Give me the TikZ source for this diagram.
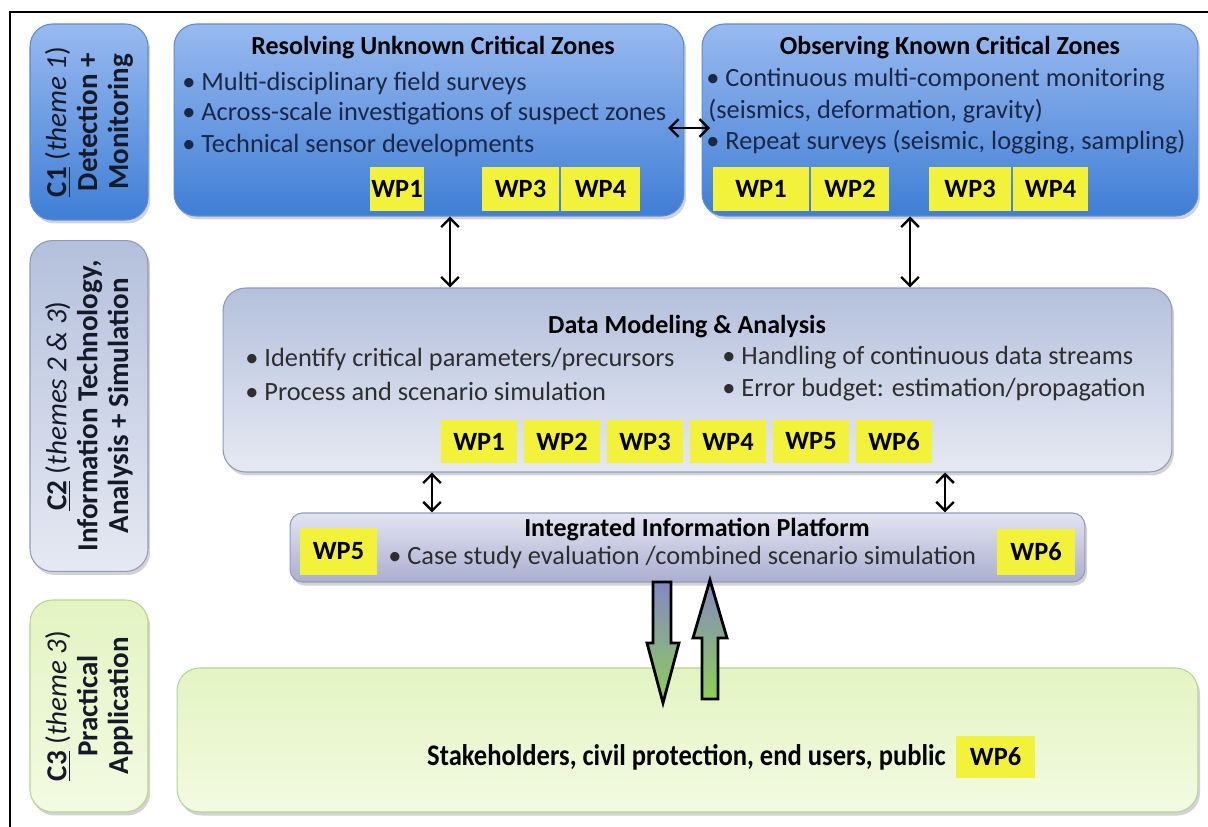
\documentclass[tikz,border=0pt]{standalone}
\usepackage{fontspec}
\setmainfont{Carlito}
\usetikzlibrary{arrows.meta,shadows}

\definecolor{bluetop}{HTML}{98BAF0}
\definecolor{bluebot}{HTML}{3F7ED5}
\definecolor{blueedge}{HTML}{5B8CD0}
\definecolor{greytop}{HTML}{B4C0DC}
\definecolor{greybot}{HTML}{E6E9F2}
\definecolor{greyedge}{HTML}{8F9BBD}
\definecolor{plattop}{HTML}{E2E4F1}
\definecolor{platbot}{HTML}{ABAED0}
\definecolor{greentop}{HTML}{E3F4C2}
\definecolor{greenbot}{HTML}{F3FAE2}
\definecolor{greenedge}{HTML}{B6D68E}
\definecolor{wpyellow}{HTML}{F2F23A}
\definecolor{navytext}{HTML}{1C2745}
\definecolor{sidecol}{HTML}{151A28}
\definecolor{greytext}{HTML}{2E2E2E}
\definecolor{arrtop}{HTML}{8587C6}
\definecolor{arrmid}{HTML}{B4C2E4}
\definecolor{arrbot}{HTML}{8DCF55}

\newcommand{\txtbody}{\fontsize{15}{18}\selectfont}
\newcommand{\txtbold}{\bfseries\fontsize{14.8}{18}\selectfont}

\tikzset{
  boxshadow/.style={drop shadow={shadow xshift=1.2pt,shadow yshift=-2pt,opacity=0.35}},
  bluebox/.style={draw=blueedge,line width=0.6pt,rounded corners=0.45cm,top color=bluetop,bottom color=bluebot,boxshadow},
  greybox/.style={draw=greyedge,line width=0.6pt,rounded corners=0.45cm,top color=greytop,bottom color=greybot,boxshadow},
  platbox/.style={draw=greyedge,line width=0.6pt,rounded corners=0.25cm,top color=plattop,bottom color=platbot,boxshadow},
  greenbox/.style={draw=greenedge,line width=0.6pt,rounded corners=0.45cm,top color=greentop,bottom color=greenbot,boxshadow},
  sidetext/.style={rotate=90,align=center,text=sidecol,font=\bfseries\fontsize{16.5}{17.6}\selectfont},
  titletext/.style={text=black,font=\txtbold},
  bullettext/.style={anchor=west,inner sep=0pt,font=\txtbody},
  wp/.style={fill=wpyellow,minimum height=0.88cm,inner sep=0pt,text=black,font=\bfseries\fontsize{15}{18}\selectfont},
  link/.style={line width=1.4pt,{Straight Barb[length=5pt,width=10pt]}-{Straight Barb[length=5pt,width=10pt]}},
  blockarr/.style={draw=black,line width=1.6pt,line join=miter,top color=arrtop,middle color=arrmid,bottom color=arrbot}
}

\begin{document}
\begin{tikzpicture}[x=0.02cm,y=-0.02cm]
\useasboundingbox (0,0) rectangle (1208,827);
\draw[line width=0.8pt] (10,827) -- (10,12) -- (1208,12);

% side bars
\node[bluebox,minimum width=2.36cm,minimum height=3.92cm] (c1) at (89,122) {};
\node[greybox,minimum width=2.36cm,minimum height=6.62cm] (c2) at (89,406) {};
\node[greenbox,minimum width=2.36cm,minimum height=4.24cm] (c3) at (89,706) {};
\node[sidetext] (c1txt) at (c1) {\underline{C1} {\mdseries(\textit{theme 1})}\\Detection +\\Monitoring};
\node[sidetext] (c2txt) at (c2) {\underline{C2} {\mdseries(\textit{themes 2 \& 3})}\\Information Technology,\\Analysis + Simulation};
\node[sidetext] (c3txt) at (c3) {\underline{C3} {\mdseries(\textit{theme 3})}\\Practical\\Application};

% boxes
\node[bluebox,minimum width=10.2cm,minimum height=3.84cm] (resolve) at (429,120) {};
\node[bluebox,minimum width=9.92cm,minimum height=3.84cm] (observe) at (950,120) {};
\node[greybox,minimum width=18.98cm,minimum height=3.68cm] (datamod) at (697.5,380) {};
\node[platbox,minimum width=15.9cm,minimum height=1.38cm] (platform) at (687.5,547.5) {};
\node[greenbox,minimum width=20.42cm,minimum height=2.88cm] (stake) at (687.5,740) {};

% C1 texts
\node[titletext] (restitle) at (433,48) {Resolving Unknown Critical Zones};
\node[bullettext,text=navytext] (res1) at (182,83) {\textbullet\ Multi-disciplinary field surveys};
\node[bullettext,text=navytext] (res2) at (182,114) {\textbullet\ Across-scale investigations of suspect zones};
\node[bullettext,text=navytext] (res3) at (182,145) {\textbullet\ Technical sensor developments};
\node[wp,minimum width=1.08cm] (rwp1) at (397,189) {WP1};
\node[wp,minimum width=1.54cm] (rwp3) at (520.5,189) {WP3};
\node[wp,minimum width=1.58cm] (rwp4) at (600.5,189) {WP4};

\node[titletext] (obstitle) at (950,48) {Observing Known Critical Zones};
\node[bullettext,text=navytext] (obs1) at (706,80) {\textbullet\ Continuous multi-component monitoring};
\node[bullettext,text=navytext] (obs2) at (708,111) {(seismics, deformation, gravity)};
\node[bullettext,text=navytext] (obs3) at (706,142) {\textbullet\ Repeat surveys (seismic, logging, sampling)};
\node[wp,minimum width=1.92cm] (owp1) at (761,189) {WP1};
\node[wp,minimum width=1.56cm] (owp2) at (850,189) {WP2};
\node[wp,minimum width=1.66cm] (owp3) at (970,189) {WP3};
\node[wp,minimum width=1.5cm] (owp4) at (1050.5,189) {WP4};

% C2 texts
\node[titletext] (dattitle) at (687,327) {Data Modeling \& Analysis};
\node[bullettext,text=greytext] (dat1) at (245,359) {\textbullet\ Identify critical parameters/precursors};
\node[bullettext,text=greytext] (dat2) at (245,391) {\textbullet\ Process and scenario simulation};
\node[bullettext,text=greytext] (dat3) at (722,358) {\textbullet\ Handling of continuous data streams};
\node[bullettext,text=greytext] (dat4) at (722,390) {\textbullet\ Error budget: estimation/propagation};
\foreach \i in {1,...,6}
  \node[wp,minimum width=1.54cm,minimum height=0.86cm] (dwp\i) at (479+83*\i-83,441.5) {WP\i};

\node[titletext] (plattitle) at (697,530) {Integrated Information Platform};
\node[bullettext,text=greytext] (plat1) at (388,557) {\textbullet\ Case study evaluation /combined scenario simulation};
\node[wp,minimum width=1.54cm,minimum height=0.94cm] (pwp5) at (338.5,551.5) {WP5};
\node[wp,minimum width=1.56cm,minimum height=0.92cm] (pwp6) at (1036,552) {WP6};

% C3 texts
\node[titletext,anchor=west] (staketxt) at (421,757) {\fontsize{17}{20}\selectfont\scalebox{0.89}[1]{Stakeholders, civil protection, end users, public}};
\node[wp,minimum width=1.58cm,minimum height=0.86cm] (swp6) at (995.5,757) {WP6};

% links
\coordinate (xl) at (450,0);
\coordinate (xr) at (910,0);
\coordinate (xpl) at (432,0);
\coordinate (xpr) at (945,0);
\coordinate (hl) at (668,128);
\coordinate (hr) at (710,128);
\draw[link] (hl) -- (hr);
\draw[link] (resolve.south -| xl) -- (datamod.north -| xl);
\draw[link] (observe.south -| xr) -- (datamod.north -| xr);
\draw[link] (datamod.south -| xpl) -- (platform.north -| xpl);
\draw[link] (datamod.south -| xpr) -- (platform.north -| xpr);

% block arrows
\draw[blockarr] (653,582) -- (653,643) -- (647,643) -- (663,703) -- (679,643) -- (671,643) -- (671,582) -- cycle;
\draw[blockarr] (702,699) -- (702,638) -- (693,638) -- (710,580) -- (727,638) -- (718,638) -- (718,699) -- cycle;
\end{tikzpicture}
\end{document}
